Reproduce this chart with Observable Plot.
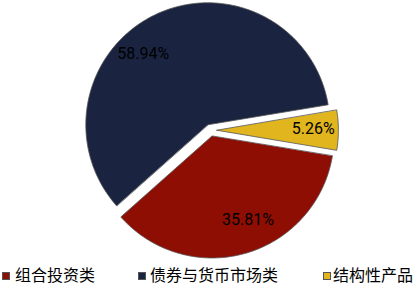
<!DOCTYPE html>
<html>
<head>
<meta charset="utf-8">
<script src="https://cdn.jsdelivr.net/npm/d3@7"></script>
<script src="https://cdn.jsdelivr.net/npm/@observablehq/plot@0.6"></script>
<style>
  body { margin: 0; background: #fff; }
  #chart { position: relative; width: 416px; height: 287px; overflow: hidden; }
  #chart svg { display: block; }
  .legend { position: absolute; left: 0; top: 266px; width: 416px; height: 21px;
            font-family: "Noto Sans CJK SC", sans-serif; font-size: 16px; color: #000; }
  .sw { position: absolute; top: 6px; width: 8px; height: 8px; box-sizing: border-box; border: 0.5px solid #555; }
  .lb { position: absolute; top: -2px; line-height: 21px; white-space: nowrap; }
</style>
</head>
<body>
<div id="chart"></div>
<script>
// Asset allocation shares (%)
const categories = ["组合投资类", "债券与货币市场类", "结构性产品"];
const shares = [35.81, 58.94, 5.26];
const colors = ["#8E0E04", "#1A2440", "#E0B51E"];

// Layout
const W = 416, H = 262;
const R = 122;                 // pie radius in px
const cx = 210.4, cy = 130.2;  // pie centre in px
const explode = 6 / R;         // slice offset, in radius units
const startDeg = 99.5;         // first slice begins just below 3 o'clock
// label placement, in radius units and degrees of shift from the slice bisector
const labelLayout = {
  "组合投资类": {r: 0.74, shift: -7},
  "债券与货币市场类": {r: 0.79, shift: -17},
  "结构性产品": {r: 0.79, shift: -1}
};

const rad = Math.PI / 180;
const slices = categories.map((name, i) => ({name, share: shares[i]}));
const arcs = d3.pie().sort(null).value(d => d.share)
  .startAngle(startDeg * rad).endAngle(startDeg * rad + 2 * Math.PI)(slices);

// Wedge outlines: the arc edge (x1,y1) paired with the apex (x2,y2); y grows downward
const rows = [];
const labels = [];
for (const a of arcs) {
  const mid = (a.startAngle + a.endAngle) / 2;
  const ox = explode * Math.sin(mid), oy = -explode * Math.cos(mid);
  const n = Math.max(2, Math.ceil((a.endAngle - a.startAngle) / rad));
  for (let k = 0; k <= n; k++) {
    const t = a.startAngle + (a.endAngle - a.startAngle) * k / n;
    rows.push({name: a.data.name, x1: ox + Math.sin(t), y1: oy - Math.cos(t), x2: ox, y2: oy});
  }
  const L = labelLayout[a.data.name];
  const la = mid + L.shift * rad;
  labels.push({
    name: a.data.name,
    x: ox + L.r * Math.sin(la),
    y: oy - L.r * Math.cos(la),
    text: a.data.share.toFixed(2) + "%"
  });
}

const plot = Plot.plot({
  width: W,
  height: H,
  margin: 0,
  x: {axis: null, domain: [-cx / R, (W - cx) / R], range: [0, W]},
  y: {axis: null, domain: [-cy / R, (H - cy) / R], range: [0, H]},
  color: {domain: categories, range: colors},
  marks: [
    Plot.area(rows, {x1: "x1", y1: "y1", x2: "x2", y2: "y2", z: "name", fill: "name",
                     stroke: "#555", strokeWidth: 0.8, curve: "linear"}),
    Plot.text(labels, {x: "x", y: "y", text: "text", fill: "#000",
                       fontSize: 16, fontFamily: "Roboto, sans-serif"})
  ]
});
plot.style.fontFamily = "Roboto, sans-serif";
const chart = document.getElementById("chart");
chart.appendChild(plot);

// Legend below the pie
const legendPos = [{sw: 2, lb: 15}, {sw: 138, lb: 150}, {sw: 323, lb: 333}];
const legend = document.createElement("div");
legend.className = "legend";
categories.forEach((name, i) => {
  const sw = document.createElement("span");
  sw.className = "sw";
  sw.style.left = legendPos[i].sw + "px";
  sw.style.background = colors[i];
  const lb = document.createElement("span");
  lb.className = "lb";
  lb.style.left = legendPos[i].lb + "px";
  lb.textContent = name;
  legend.appendChild(sw);
  legend.appendChild(lb);
});
chart.appendChild(legend);
</script>
</body>
</html>
